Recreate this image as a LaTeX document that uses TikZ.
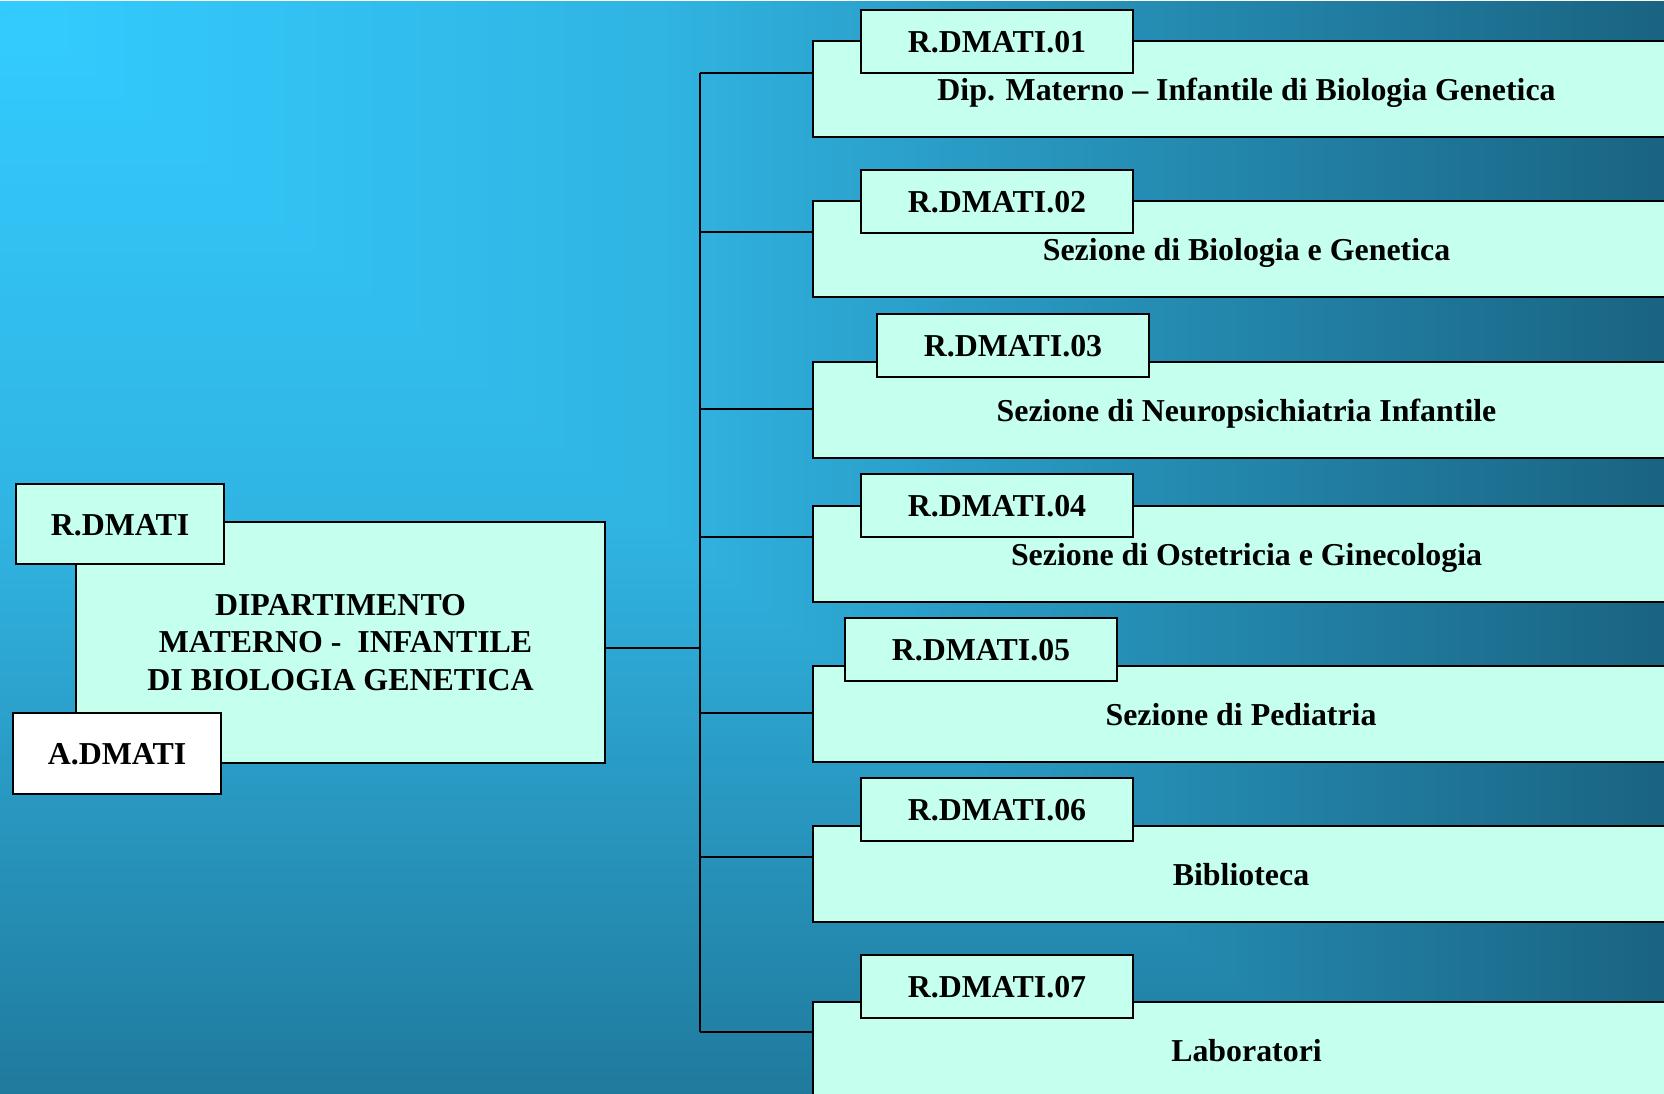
\documentclass[tikz,border=0pt]{standalone}
\usepackage{fontspec}
\setmainfont{Liberation Serif}

% Slide background: corner gradient, lightest at the top-left corner
\pgfdeclarefunctionalshading{slidebg}{\pgfpoint{0bp}{0bp}}{\pgfpoint{1664bp}{1093bp}}{}{
  1093 exch sub 1.259 mul exch
  2 copy lt {exch} if pop
  dup 0 lt {pop 0} if
  dup 660 lt
  {
    660 div
    dup -3 mul 51 add 255 div exch
    dup -24 mul 204 add 255 div exch
    -29 mul 255 add 255 div
  }
  {
    660 sub 980 div
    dup -22 mul 48 add 255 div exch
    dup -79 mul 180 add 255 div exch
    -94 mul 226 add 255 div
  } ifelse
}

\definecolor{boxfill}{HTML}{C5FFEE}

\tikzset{
  frame/.style={draw=black, line width=2.2bp, inner sep=0pt, outer sep=0pt,
    font=\fontsize{32}{38}\selectfont\bfseries, text=black},
  oneline/.style={frame, text height=22bp, text depth=0bp},
  unitbox/.style={oneline, fill=boxfill, anchor=north west,
    minimum width=867bp, minimum height=96bp},
  codebox/.style={oneline, fill=boxfill, anchor=north west,
    minimum width=272bp, minimum height=63bp},
  link/.style={draw=black, line width=2.2bp}
}

\begin{document}
\begin{tikzpicture}[x=1bp, y=-1bp]
\useasboundingbox (0,0) rectangle (1664,1093);
\node[inner sep=0pt, outer sep=0pt, anchor=north west] (bg) at (0,0) {\pgfuseshading{slidebg}};

% junction points on the trunk
\coordinate (j1) at (700,73);
\coordinate (j2) at (700,232);
\coordinate (j3) at (700,409);
\coordinate (j4) at (700,537);
\coordinate (j5) at (700,713);
\coordinate (j6) at (700,857);
\coordinate (j7) at (700,1032);
\coordinate (jm) at (700,648);

% department block
\node[frame, fill=boxfill, anchor=north west, minimum width=529bp, minimum height=241bp,
      align=center] (dept) at (76,522)
  {DIPARTIMENTO\\\hspace*{10bp}MATERNO -\ \ INFANTILE\\DI BIOLOGIA GENETICA};
\node[oneline, fill=boxfill, anchor=north west, minimum width=208bp, minimum height=80bp]
  (resp) at (16,484) {R.DMATI};
\node[oneline, fill=white, anchor=north west, minimum width=208bp, minimum height=81bp]
  (amm) at (13,713) {A.DMATI};

% trunk and branches
\draw[link] (j1) -- (j7);
\draw[link] (dept.east |- jm) -- (jm);

% units
\node[unitbox] (u1) at (813,41)  {Dip. Materno -- Infantile di Biologia Genetica};
\node[unitbox] (u2) at (813,201) {Sezione di Biologia e Genetica};
\node[unitbox] (u3) at (813,362) {Sezione di Neuropsichiatria Infantile};
\node[unitbox] (u4) at (813,506) {Sezione di Ostetricia e Ginecologia};
\node[unitbox] (u5) at (813,666) {\hspace*{-11bp}Sezione di Pediatria};
\node[unitbox] (u6) at (813,826) {\hspace*{-11bp}Biblioteca};
\node[unitbox] (u7) at (813,1002) {Laboratori};

\foreach \i in {1,...,7} {
  \draw[link] (j\i) -- (u\i.west |- j\i);
}

% unit codes
\node[codebox] (c1) at (861,10)  {R.DMATI.01};
\node[codebox] (c2) at (861,170) {R.DMATI.02};
\node[codebox] (c3) at (877,314) {R.DMATI.03};
\node[codebox] (c4) at (861,474) {R.DMATI.04};
\node[codebox] (c5) at (845,618) {R.DMATI.05};
\node[codebox] (c6) at (861,778) {R.DMATI.06};
\node[codebox] (c7) at (861,955) {R.DMATI.07};
\end{tikzpicture}
\end{document}
